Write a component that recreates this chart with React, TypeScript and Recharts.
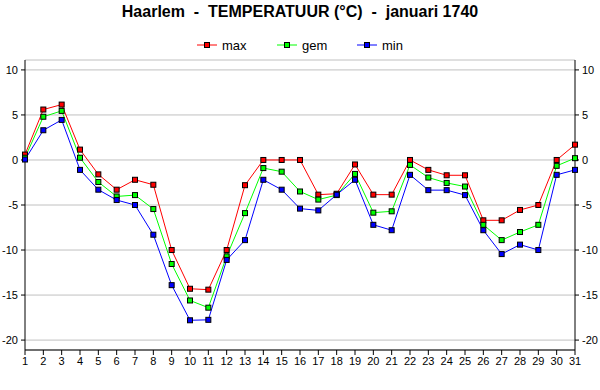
import React from 'react';
import { LineChart, Line, XAxis, YAxis, CartesianGrid } from 'recharts';

const days = [1, 2, 3, 4, 5, 6, 7, 8, 9, 10, 11, 12, 13, 14, 15, 16, 17, 18, 19, 20, 21, 22, 23, 24, 25, 26, 27, 28, 29, 30, 31];

const maxTemp = [0.6, 5.6, 6.15, 1.15, -1.6, -3.3, -2.2, -2.75, -10.0, -14.3, -14.4, -10.0, -2.8, 0, 0, 0, -3.85, -3.75, -0.5, -3.85, -3.85, 0, -1.1, -1.7, -1.7, -6.7, -6.7, -5.55, -5.0, 0, 1.7];
const gemTemp = [0.25, 4.8, 5.45, 0.25, -2.45, -4.05, -3.9, -5.45, -11.55, -15.6, -16.4, -10.7, -5.9, -0.9, -1.3, -3.5, -4.4, -3.9, -1.55, -5.85, -5.7, -0.55, -1.95, -2.55, -2.95, -7.2, -8.9, -8.0, -7.2, -0.65, 0.2];
const minTemp = [0.05, 3.3, 4.45, -1.1, -3.3, -4.45, -5.0, -8.3, -13.9, -17.8, -17.75, -11.1, -8.9, -2.2, -3.3, -5.4, -5.6, -3.85, -2.2, -7.2, -7.8, -1.65, -3.35, -3.35, -3.9, -7.8, -10.45, -9.4, -10.0, -1.65, -1.1];

const yTicks = [-20, -15, -10, -5, 0, 5, 10];

const series = [
  { key: 'max', label: 'max', color: '#ff0000' },
  { key: 'gem', label: 'gem', color: '#00ff00' },
  { key: 'min', label: 'min', color: '#0000ff' },
];

const data = days.map((day, i) => ({ day, max: maxTemp[i], gem: gemTemp[i], min: minTemp[i] }));

const font = 'Arial, "Liberation Sans", sans-serif';
const tickStyle = { fontSize: 11, fill: '#000', fontFamily: font };

const squareDot = (color: string) => (props: any) => {
  const { cx, cy, index } = props;
  if (cx == null || cy == null) return <g key={index} />;
  return <rect key={index} x={cx - 2.5} y={cy - 2.5} width={5} height={5} fill={color} stroke="#000" strokeWidth={1} />;
};

export default function App() {
  return (
    <div style={{ position: 'absolute', left: 0, top: 0, width: 600, height: 390, background: '#fff', fontFamily: font }}>
      <div
        style={{
          position: 'absolute',
          top: 3,
          left: 0,
          width: 600,
          textAlign: 'center',
          fontSize: 16,
          fontWeight: 'bold',
          whiteSpace: 'pre',
          color: '#000',
        }}
      >
        {'Haarlem  -  TEMPERATUUR (°C)  -  januari 1740'}
      </div>

      {series.map((s, i) => (
        <div key={s.key} style={{ position: 'absolute', top: 37, left: 197 + i * 80, height: 16, display: 'flex', alignItems: 'center' }}>
          <svg width={20} height={16}>
            <line x1={0} y1={8} x2={20} y2={8} stroke={s.color} strokeWidth={1} />
            <rect x={7.5} y={5.5} width={5} height={5} fill={s.color} stroke="#000" strokeWidth={1} />
          </svg>
          <span style={{ marginLeft: 5, fontSize: 13, color: '#000' }}>{s.label}</span>
        </div>
      ))}

      <LineChart width={600} height={390} data={data} margin={{ top: 60, right: 0, bottom: 0, left: 0 }}>
        <CartesianGrid vertical={false} stroke="#c0c0c0" />
        <XAxis
          dataKey="day"
          type="number"
          domain={[1, 31]}
          ticks={days}
          interval={0}
          height={40}
          tickSize={5}
          tickMargin={2}
          axisLine={{ stroke: '#000' }}
          tickLine={{ stroke: '#000' }}
          tick={tickStyle}
        />
        <XAxis
          xAxisId="top"
          orientation="top"
          dataKey="day"
          type="number"
          domain={[1, 31]}
          height={0}
          tick={false}
          tickLine={false}
          axisLine={{ stroke: '#000' }}
        />
        <YAxis
          type="number"
          domain={[-21.1, 11.1]}
          ticks={yTicks}
          interval={0}
          allowDataOverflow
          width={25}
          tickSize={4}
          tickMargin={3}
          axisLine={{ stroke: '#000' }}
          tickLine={{ stroke: '#000' }}
          tick={tickStyle}
        />
        <YAxis
          yAxisId="right"
          orientation="right"
          type="number"
          domain={[-21.1, 11.1]}
          ticks={yTicks}
          interval={0}
          allowDataOverflow
          width={25}
          tickSize={4}
          tickMargin={3}
          axisLine={{ stroke: '#000' }}
          tickLine={{ stroke: '#000' }}
          tick={tickStyle}
        />
        {series.map((s) => (
          <Line
            key={s.key}
            type="linear"
            dataKey={s.key}
            stroke={s.color}
            strokeWidth={1}
            dot={squareDot(s.color)}
            activeDot={false}
            isAnimationActive={false}
          />
        ))}
      </LineChart>
    </div>
  );
}
